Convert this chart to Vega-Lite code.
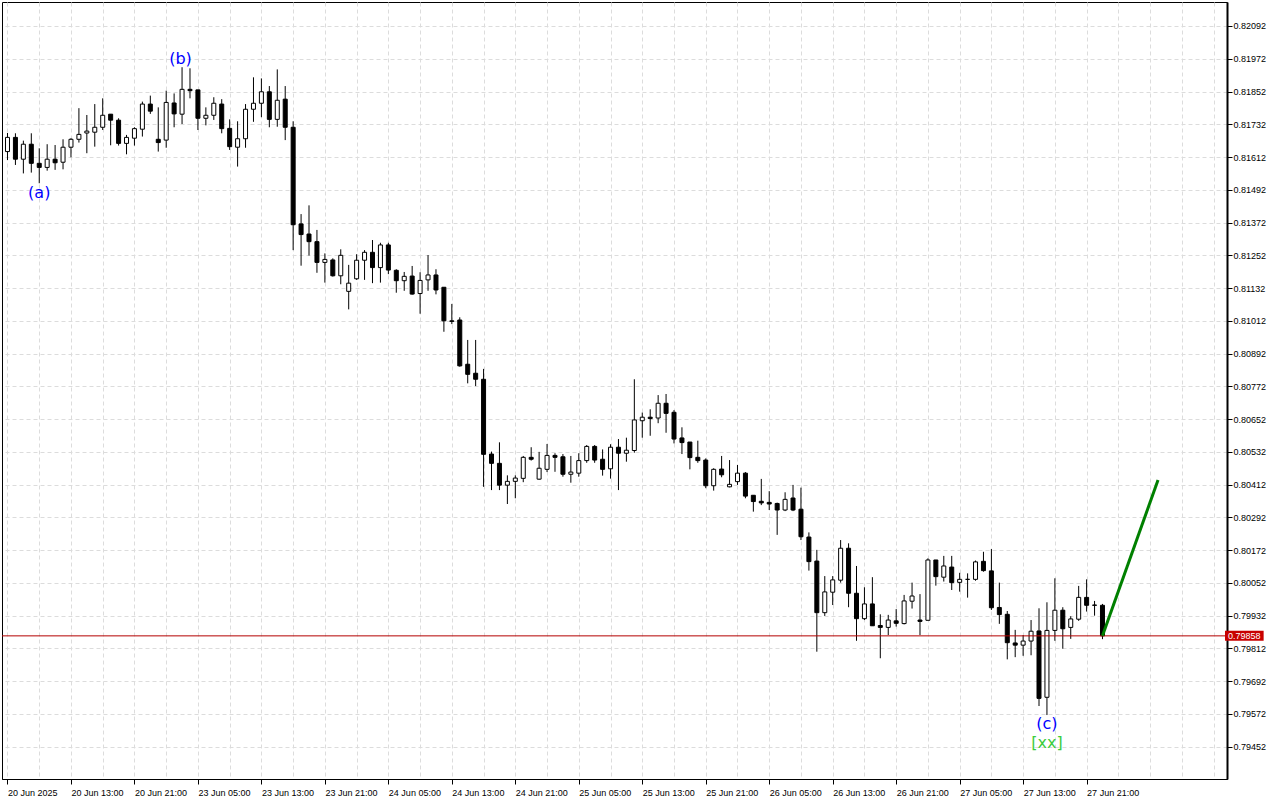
{
  "$schema": "https://vega.github.io/schema/vega-lite/v6.json",
  "width": 1225,
  "height": 777,
  "autosize": {"type": "none"},
  "padding": {"left": 2, "top": 2, "right": 53, "bottom": 21},
  "background": "white",
  "config": {"view": {"stroke": "black", "strokeWidth": 1}},
  "datasets": {
    "candles": [
      {"i":0,"o":0.81632,"h":0.81700,"l":0.81601,"c":0.81684},
      {"i":1,"o":0.81684,"h":0.81699,"l":0.81583,"c":0.81604},
      {"i":2,"o":0.81604,"h":0.81672,"l":0.81552,"c":0.81659},
      {"i":3,"o":0.81659,"h":0.81699,"l":0.81555,"c":0.81589},
      {"i":4,"o":0.81589,"h":0.81644,"l":0.81516,"c":0.81574},
      {"i":5,"o":0.81574,"h":0.81659,"l":0.81562,"c":0.81604},
      {"i":6,"o":0.81604,"h":0.81656,"l":0.81565,"c":0.81591},
      {"i":7,"o":0.81593,"h":0.81677,"l":0.81567,"c":0.81648},
      {"i":8,"o":0.81648,"h":0.81681,"l":0.81611,"c":0.81677},
      {"i":9,"o":0.81677,"h":0.81791,"l":0.81665,"c":0.81695},
      {"i":10,"o":0.81700,"h":0.81766,"l":0.81626,"c":0.81707},
      {"i":11,"o":0.81703,"h":0.81806,"l":0.81650,"c":0.81721},
      {"i":12,"o":0.81721,"h":0.81827,"l":0.81711,"c":0.81765},
      {"i":13,"o":0.81769,"h":0.81769,"l":0.81655,"c":0.81747},
      {"i":14,"o":0.81747,"h":0.81754,"l":0.81654,"c":0.81662},
      {"i":15,"o":0.81662,"h":0.81693,"l":0.81622,"c":0.81684},
      {"i":16,"o":0.81681,"h":0.81721,"l":0.81654,"c":0.81716},
      {"i":17,"o":0.81714,"h":0.81815,"l":0.81687,"c":0.81806},
      {"i":18,"o":0.81806,"h":0.81837,"l":0.81770,"c":0.81780},
      {"i":19,"o":0.81677,"h":0.81794,"l":0.81632,"c":0.81665},
      {"i":20,"o":0.81674,"h":0.81855,"l":0.81646,"c":0.81812},
      {"i":21,"o":0.81810,"h":0.81845,"l":0.81721,"c":0.81770},
      {"i":22,"o":0.81769,"h":0.81941,"l":0.81733,"c":0.81860},
      {"i":23,"o":0.81860,"h":0.81937,"l":0.81827,"c":0.81855},
      {"i":24,"o":0.81858,"h":0.81858,"l":0.81711,"c":0.81754},
      {"i":25,"o":0.81754,"h":0.81794,"l":0.81728,"c":0.81765},
      {"i":26,"o":0.81765,"h":0.81831,"l":0.81748,"c":0.81809},
      {"i":27,"o":0.81806,"h":0.81824,"l":0.81699,"c":0.81716},
      {"i":28,"o":0.81717,"h":0.81750,"l":0.81638,"c":0.81650},
      {"i":29,"o":0.81648,"h":0.81743,"l":0.81577,"c":0.81679},
      {"i":30,"o":0.81679,"h":0.81806,"l":0.81646,"c":0.81787},
      {"i":31,"o":0.81787,"h":0.81904,"l":0.81741,"c":0.81809},
      {"i":32,"o":0.81809,"h":0.81900,"l":0.81758,"c":0.81851},
      {"i":33,"o":0.81851,"h":0.81872,"l":0.81721,"c":0.81750},
      {"i":34,"o":0.81750,"h":0.81933,"l":0.81723,"c":0.81820},
      {"i":35,"o":0.81824,"h":0.81872,"l":0.81674,"c":0.81721},
      {"i":36,"o":0.81721,"h":0.81743,"l":0.81271,"c":0.81364},
      {"i":37,"o":0.81367,"h":0.81403,"l":0.81214,"c":0.81328},
      {"i":38,"o":0.81330,"h":0.81435,"l":0.81251,"c":0.81302},
      {"i":39,"o":0.81302,"h":0.81345,"l":0.81188,"c":0.81226},
      {"i":40,"o":0.81226,"h":0.81259,"l":0.81152,"c":0.81237},
      {"i":41,"o":0.81235,"h":0.81241,"l":0.81174,"c":0.81177},
      {"i":42,"o":0.81177,"h":0.81274,"l":0.81146,"c":0.81252},
      {"i":43,"o":0.81120,"h":0.81217,"l":0.81054,"c":0.81150},
      {"i":44,"o":0.81166,"h":0.81256,"l":0.81162,"c":0.81234},
      {"i":45,"o":0.81234,"h":0.81271,"l":0.81162,"c":0.81263},
      {"i":46,"o":0.81263,"h":0.81308,"l":0.81150,"c":0.81207},
      {"i":47,"o":0.81207,"h":0.81298,"l":0.81152,"c":0.81290},
      {"i":48,"o":0.81290,"h":0.81298,"l":0.81183,"c":0.81198},
      {"i":49,"o":0.81197,"h":0.81201,"l":0.81115,"c":0.81159},
      {"i":50,"o":0.81159,"h":0.81191,"l":0.81122,"c":0.81175},
      {"i":51,"o":0.81176,"h":0.81213,"l":0.81108,"c":0.81110},
      {"i":52,"o":0.81112,"h":0.81190,"l":0.81038,"c":0.81160},
      {"i":53,"o":0.81162,"h":0.81253,"l":0.81122,"c":0.81180},
      {"i":54,"o":0.81180,"h":0.81201,"l":0.81109,"c":0.81125},
      {"i":55,"o":0.81135,"h":0.81135,"l":0.80972,"c":0.81012},
      {"i":56,"o":0.81012,"h":0.81074,"l":0.81000,"c":0.81010},
      {"i":57,"o":0.81015,"h":0.81025,"l":0.80844,"c":0.80847},
      {"i":58,"o":0.80853,"h":0.80942,"l":0.80783,"c":0.80816},
      {"i":59,"o":0.80820,"h":0.80942,"l":0.80773,"c":0.80798},
      {"i":60,"o":0.80798,"h":0.80836,"l":0.80404,"c":0.80523},
      {"i":61,"o":0.80524,"h":0.80533,"l":0.80392,"c":0.80490},
      {"i":62,"o":0.80490,"h":0.80567,"l":0.80392,"c":0.80410},
      {"i":63,"o":0.80410,"h":0.80446,"l":0.80341,"c":0.80424},
      {"i":64,"o":0.80424,"h":0.80446,"l":0.80362,"c":0.80436},
      {"i":65,"o":0.80435,"h":0.80517,"l":0.80421,"c":0.80512},
      {"i":66,"o":0.80512,"h":0.80549,"l":0.80500,"c":0.80505},
      {"i":67,"o":0.80432,"h":0.80532,"l":0.80430,"c":0.80472},
      {"i":68,"o":0.80468,"h":0.80561,"l":0.80458,"c":0.80519},
      {"i":69,"o":0.80519,"h":0.80527,"l":0.80459,"c":0.80512},
      {"i":70,"o":0.80514,"h":0.80524,"l":0.80441,"c":0.80450},
      {"i":71,"o":0.80450,"h":0.80517,"l":0.80419,"c":0.80458},
      {"i":72,"o":0.80454,"h":0.80527,"l":0.80441,"c":0.80500},
      {"i":73,"o":0.80500,"h":0.80557,"l":0.80492,"c":0.80552},
      {"i":74,"o":0.80552,"h":0.80557,"l":0.80492,"c":0.80502},
      {"i":75,"o":0.80505,"h":0.80541,"l":0.80445,"c":0.80468},
      {"i":76,"o":0.80470,"h":0.80560,"l":0.80434,"c":0.80549},
      {"i":77,"o":0.80549,"h":0.80579,"l":0.80392,"c":0.80527},
      {"i":78,"o":0.80527,"h":0.80584,"l":0.80496,"c":0.80538},
      {"i":79,"o":0.80537,"h":0.80798,"l":0.80529,"c":0.80649},
      {"i":80,"o":0.80646,"h":0.80676,"l":0.80584,"c":0.80659},
      {"i":81,"o":0.80659,"h":0.80688,"l":0.80591,"c":0.80654},
      {"i":82,"o":0.80656,"h":0.80740,"l":0.80637,"c":0.80710},
      {"i":83,"o":0.80710,"h":0.80744,"l":0.80602,"c":0.80673},
      {"i":84,"o":0.80677,"h":0.80685,"l":0.80563,"c":0.80579},
      {"i":85,"o":0.80583,"h":0.80622,"l":0.80524,"c":0.80566},
      {"i":86,"o":0.80568,"h":0.80568,"l":0.80468,"c":0.80511},
      {"i":87,"o":0.80512,"h":0.80573,"l":0.80492,"c":0.80500},
      {"i":88,"o":0.80502,"h":0.80508,"l":0.80399,"c":0.80408},
      {"i":89,"o":0.80408,"h":0.80472,"l":0.80390,"c":0.80468},
      {"i":90,"o":0.80469,"h":0.80517,"l":0.80439,"c":0.80448},
      {"i":91,"o":0.80404,"h":0.80502,"l":0.80402,"c":0.80413},
      {"i":92,"o":0.80423,"h":0.80484,"l":0.80411,"c":0.80454},
      {"i":93,"o":0.80454,"h":0.80458,"l":0.80362,"c":0.80370},
      {"i":94,"o":0.80373,"h":0.80373,"l":0.80313,"c":0.80350},
      {"i":95,"o":0.80351,"h":0.80433,"l":0.80337,"c":0.80345},
      {"i":96,"o":0.80347,"h":0.80388,"l":0.80319,"c":0.80341},
      {"i":97,"o":0.80343,"h":0.80346,"l":0.80228,"c":0.80319},
      {"i":98,"o":0.80319,"h":0.80384,"l":0.80315,"c":0.80358},
      {"i":99,"o":0.80363,"h":0.80411,"l":0.80315,"c":0.80319},
      {"i":100,"o":0.80322,"h":0.80401,"l":0.80209,"c":0.80221},
      {"i":101,"o":0.80220,"h":0.80237,"l":0.80097,"c":0.80130},
      {"i":102,"o":0.80132,"h":0.80173,"l":0.79800,"c":0.79943},
      {"i":103,"o":0.79943,"h":0.80077,"l":0.79931,"c":0.80019},
      {"i":104,"o":0.80018,"h":0.80077,"l":0.79971,"c":0.80063},
      {"i":105,"o":0.80062,"h":0.80209,"l":0.80053,"c":0.80179},
      {"i":106,"o":0.80179,"h":0.80197,"l":0.79963,"c":0.80014},
      {"i":107,"o":0.80014,"h":0.80114,"l":0.79840,"c":0.79921},
      {"i":108,"o":0.79921,"h":0.80036,"l":0.79916,"c":0.79975},
      {"i":109,"o":0.79975,"h":0.80073,"l":0.79895,"c":0.79895},
      {"i":110,"o":0.79896,"h":0.79937,"l":0.79776,"c":0.79889},
      {"i":111,"o":0.79889,"h":0.79935,"l":0.79861,"c":0.79916},
      {"i":112,"o":0.79913,"h":0.79956,"l":0.79892,"c":0.79904},
      {"i":113,"o":0.79903,"h":0.80008,"l":0.79900,"c":0.79986},
      {"i":114,"o":0.79985,"h":0.80053,"l":0.79958,"c":0.80004},
      {"i":115,"o":0.79916,"h":0.80011,"l":0.79861,"c":0.79911},
      {"i":116,"o":0.79915,"h":0.80142,"l":0.79915,"c":0.80136},
      {"i":117,"o":0.80136,"h":0.80136,"l":0.80042,"c":0.80075},
      {"i":118,"o":0.80073,"h":0.80151,"l":0.80057,"c":0.80114},
      {"i":119,"o":0.80110,"h":0.80151,"l":0.80026,"c":0.80053},
      {"i":120,"o":0.80054,"h":0.80089,"l":0.80020,"c":0.80065},
      {"i":121,"o":0.80065,"h":0.80087,"l":0.79998,"c":0.80065},
      {"i":122,"o":0.80065,"h":0.80134,"l":0.80060,"c":0.80129},
      {"i":123,"o":0.80131,"h":0.80166,"l":0.80093,"c":0.80097},
      {"i":124,"o":0.80096,"h":0.80176,"l":0.79953,"c":0.79961},
      {"i":125,"o":0.79962,"h":0.80053,"l":0.79902,"c":0.79936},
      {"i":126,"o":0.79937,"h":0.79949,"l":0.79772,"c":0.79833},
      {"i":127,"o":0.79832,"h":0.79880,"l":0.79780,"c":0.79824},
      {"i":128,"o":0.79824,"h":0.79861,"l":0.79785,"c":0.79839},
      {"i":129,"o":0.79839,"h":0.79916,"l":0.79787,"c":0.79875},
      {"i":130,"o":0.79876,"h":0.79959,"l":0.79601,"c":0.79629},
      {"i":131,"o":0.79633,"h":0.79981,"l":0.79568,"c":0.79878},
      {"i":132,"o":0.79878,"h":0.80069,"l":0.79840,"c":0.79952},
      {"i":133,"o":0.79952,"h":0.79963,"l":0.79811,"c":0.79884},
      {"i":134,"o":0.79889,"h":0.79930,"l":0.79847,"c":0.79920},
      {"i":135,"o":0.79919,"h":0.80041,"l":0.79913,"c":0.79999},
      {"i":136,"o":0.79999,"h":0.80065,"l":0.79947,"c":0.79970},
      {"i":137,"o":0.79971,"h":0.79986,"l":0.79932,"c":0.79970},
      {"i":138,"o":0.79970,"h":0.79975,"l":0.79846,"c":0.79858}
    ],
    "forecast": [
      {"i": 138, "p": 0.79858},
      {"i": 145, "p": 0.80429}
    ],
    "labels": [
      {"i": 4, "p": 0.81482, "t": "(a)"},
      {"i": 21.8, "p": 0.81972, "t": "(b)"},
      {"i": 131, "p": 0.79535, "t": "(c)"},
      {"i": 131, "p": 0.79466, "t": "[xx]"}
    ],
    "last": [
      {"p": 0.79858}
    ]
  },
  "layer": [
    {
      "data": {"name": "candles"},
      "mark": {"type": "rule", "color": "black", "strokeWidth": 1},
      "encoding": {
        "x": {
          "field": "i",
          "type": "quantitative",
          "scale": {"domain": [-0.0625, 153.0625], "nice": false, "zero": false},
          "axis": {
            "orient": "bottom",
            "values": [0,4,8,12,16,20,24,28,32,36,40,44,48,52,56,60,64,68,72,76,80,84,88,92,96,100,104,108,112,116,120,124,128,132,136,140,144,148,152],
            "tickCount": 500,
            "grid": true,
            "gridColor": "#dcdcdc",
            "gridDash": [4, 3],
            "gridWidth": 1,
            "domain": true,
            "domainColor": "black",
            "domainWidth": 1,
            "ticks": true,
            "tickColor": "black",
            "tickSize": 5,
            "tickOpacity": {"condition": {"test": "datum.value % 8 === 0 && datum.value <= 136", "value": 1}, "value": 0},
            "labelExpr": "(datum.value % 8 === 0 && datum.value <= 136) ? ['20 Jun 2025','20 Jun 13:00','20 Jun 21:00','23 Jun 05:00','23 Jun 13:00','23 Jun 21:00','24 Jun 05:00','24 Jun 13:00','24 Jun 21:00','25 Jun 05:00','25 Jun 13:00','25 Jun 21:00','26 Jun 05:00','26 Jun 13:00','26 Jun 21:00','27 Jun 05:00','27 Jun 13:00','27 Jun 21:00'][datum.value / 8] : ''",
            "labelAlign": "left",
            "labelBaseline": "top",
            "labelPadding": 4,
            "labelFont": "Liberation Sans",
            "labelFontSize": 9,
            "labelColor": "black",
            "labelOverlap": false,
            "labelFlush": false,
            "labelBound": false,
            "title": null
          }
        },
        "y": {
          "field": "l",
          "type": "quantitative",
          "scale": {"domain": [0.793337, 0.821799], "nice": false, "zero": false},
          "axis": {
            "orient": "right",
            "values": [0.79452,0.79572,0.79692,0.79812,0.79932,0.80052,0.80172,0.80292,0.80412,0.80532,0.80652,0.80772,0.80892,0.81012,0.81132,0.81252,0.81372,0.81492,0.81612,0.81732,0.81852,0.81972,0.82092],
            "tickCount": 500,
            "format": ".5f",
            "grid": true,
            "gridColor": "#dcdcdc",
            "gridDash": [4, 3],
            "gridWidth": 1,
            "domain": true,
            "domainColor": "black",
            "domainWidth": 2,
            "tickColor": "black",
            "tickSize": 5,
            "labelPadding": 1,
            "labelFont": "Liberation Sans",
            "labelFontSize": 9,
            "labelColor": "black",
            "labelBaseline": "middle",
            "labelOverlap": false,
            "labelFlush": false,
            "labelBound": false,
            "title": null
          }
        },
        "y2": {"field": "h"}
      }
    },
    {
      "data": {"name": "candles"},
      "mark": {"type": "bar", "width": 4, "stroke": "black", "strokeWidth": 1},
      "encoding": {
        "x": {"field": "i", "type": "quantitative"},
        "y": {"field": "o", "type": "quantitative"},
        "y2": {"field": "c"},
        "fill": {"condition": {"test": "datum.c >= datum.o", "value": "white"}, "value": "black"}
      }
    },
    {
      "data": {"name": "last"},
      "mark": {"type": "rule", "color": "#b40000", "strokeWidth": 1},
      "encoding": {
        "y": {"field": "p", "type": "quantitative"}
      }
    },
    {
      "data": {"name": "forecast"},
      "mark": {"type": "line", "color": "#008000", "strokeWidth": 3},
      "encoding": {
        "x": {"field": "i", "type": "quantitative"},
        "y": {"field": "p", "type": "quantitative"}
      }
    },
    {
      "data": {"name": "labels"},
      "mark": {"type": "text", "font": "DejaVu Sans", "fontSize": 16, "align": "center", "baseline": "middle"},
      "encoding": {
        "x": {"field": "i", "type": "quantitative"},
        "y": {"field": "p", "type": "quantitative"},
        "text": {"field": "t"},
        "color": {"condition": {"test": "datum.t === '[xx]'", "value": "#3ccc3c"}, "value": "#0000ff"}
      }
    },
    {
      "data": {"name": "last"},
      "mark": {"type": "rule", "color": "#c80000", "strokeWidth": 10, "strokeCap": "butt"},
      "encoding": {
        "x": {"datum": 153.44, "type": "quantitative"},
        "x2": {"datum": 158.31},
        "y": {"field": "p", "type": "quantitative"}
      }
    },
    {
      "data": {"name": "last"},
      "mark": {"type": "text", "color": "white", "font": "Liberation Sans", "fontSize": 9, "align": "center", "baseline": "middle"},
      "encoding": {
        "x": {"datum": 155.875, "type": "quantitative"},
        "y": {"field": "p", "type": "quantitative"},
        "text": {"field": "p", "type": "quantitative", "format": ".5f"}
      }
    }
  ]
}
